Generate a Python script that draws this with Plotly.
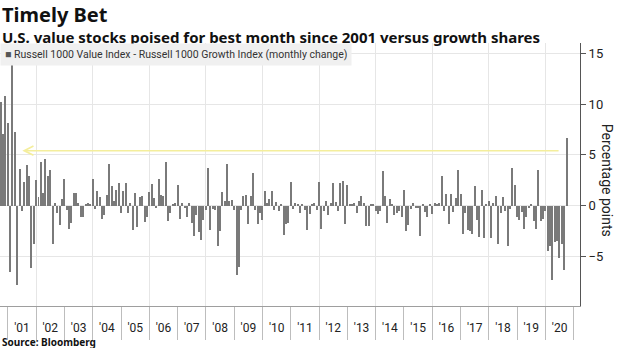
import pandas as pd
import plotly.graph_objects as go

# Monthly change of Russell 1000 Value minus Russell 1000 Growth, percentage points
spread_2000 = [10.2, 7.1, 10.8, 8.1]  # Sep-Dec
spread_2001 = [-6.5, 14.0, 7.3, -7.8, 3.6, -0.5, 2.3, 4.0, 2.9, -6.1, -3.8, 2.5]
spread_2002 = [0.9, 4.3, 1.3, 4.6, 2.9, 3.5, -3.8, 0.3, -0.7, -1.9, 0.7, 2.6]
spread_2003 = [-0.4, -2.3, -1.7, 1.3, 1.3, 0.3, -1.1, -1.1, 0.1, 0.3, 0.2, 2.6]
spread_2004 = [-0.3, 1.5, 0.9, -1.3, -0.9, 1.1, 4.1, 1.9, 0.5, 1.6, 2.2, -0.7]
spread_2005 = [1.5, 2.2, -0.7, 0.3, -2.4, 1.3, -2.1, 0.9, 1.0, -1.6, -1.1, 1.4]
spread_2006 = [2.1, 0.8, -0.2, 2.6, 1.1, 1.0, 4.3, -1.5, -0.7, 0.1, 0.3, 2.0]
spread_2007 = [-1.3, 0.3, -0.2, -1.1, 0.3, -1.7, -3.0, -0.9, -2.6, -3.4, -1.4, -0.4]
spread_2008 = [3.7, -2.4, -0.3, -0.4, -4.0, -2.5, 1.4, 0.5, 4.1, 0.5, 0.6, -0.4]
spread_2009 = [-6.8, -6.0, -0.4, 1.0, 1.1, -1.8, 1.0, 3.2, -0.4, -1.8, -0.7, -1.4]
spread_2010 = [1.5, 0.3, 0.7, 1.5, -0.4, 0.4, -0.5, 0.2, -2.9, -1.8, -1.7, 2.3]
spread_2011 = [-0.3, 0.3, 0.2, -0.7, 0.1, -0.4, -2.4, -0.8, 0.2, 0.3, -0.4, 2.3]
spread_2012 = [-2.3, -0.5, 0.5, -0.9, 0.3, 2.2, 0.4, -0.5, 2.2, 2.4, -1.8, 2.0]
spread_2013 = [0.2, 0.2, 0.3, -0.7, 0.5, 1.0, 0.3, -2.0, -2.0, 0.1, 0.1, -0.5]
spread_2014 = [-0.8, -0.5, 3.4, 1.0, -1.7, 0.7, 0.2, -0.9, -0.7, -0.5, -1.1, 1.6]
spread_2015 = [-2.5, -1.9, -0.3, 0.3, -0.2, -0.2, -3.0, 0.1, -0.6, -1.1, 0.1, -0.8]
spread_2016 = [0.3, 0.1, 0.3, 2.9, -0.5, 1.2, -1.8, 1.2, -0.6, 0.8, 3.5, 1.2]
spread_2017 = [-2.8, -0.7, -2.4, -2.5, -2.8, 1.9, -1.4, -3.1, 1.6, -3.2, 0.1, 0.5]
spread_2018 = [-3.2, 0.3, 1.0, -3.8, -0.7, 0.9, -0.5, -4.0, -0.3, 3.7, 2.0, -1.1]
spread_2019 = [-1.4, -0.6, -2.3, -1.1, -0.2, 0.2, -1.5, -2.3, 3.5, -1.5, -1.3, -0.5]
spread_2020 = [-4.4, -4.0, -7.3, -3.6, -3.5, -5.1, -3.8, -6.3, 6.7]  # Jan-Sep

spread = (spread_2000 + spread_2001 + spread_2002 + spread_2003 + spread_2004
          + spread_2005 + spread_2006 + spread_2007 + spread_2008 + spread_2009
          + spread_2010 + spread_2011 + spread_2012 + spread_2013 + spread_2014
          + spread_2015 + spread_2016 + spread_2017 + spread_2018 + spread_2019
          + spread_2020)

# Each bar sits on the last day of its month
month_ends = pd.date_range("2000-10-01", periods=len(spread), freq="MS") - pd.Timedelta(days=1)

y_ticks = [-5, 0, 5, 10, 15]
arrow_level = 5.42
arrow_from = "2020-07-08"
arrow_to = "2001-07-06"

TEXT = "#222222"
GRID = "#e6e6e6"
FONT = "Noto Sans"

fig = go.Figure()
fig.add_trace(go.Bar(
    x=month_ends, y=spread,
    width=13 * 86400000,
    marker=dict(color="#7a7a7a", line=dict(width=0)),
    showlegend=False, hoverinfo="x+y",
))
# empty trace that carries the two-year vertical grid axis
fig.add_trace(go.Scatter(x=[], y=[], xaxis="x2", showlegend=False, hoverinfo="skip"))

fig.update_layout(
    width=620, height=348, autosize=False,
    margin=dict(l=0, r=40, t=43, b=42),
    paper_bgcolor="white", plot_bgcolor="white",
    font=dict(family=FONT, color=TEXT),
    xaxis=dict(
        type="date", range=["2000-09-21", "2021-03-22"],
        tick0="2001-01-01", dtick="M12", tickformat="'%y",
        ticklabelmode="period", ticks="outside", ticklen=33,
        tickcolor="#bdbdbd", tickwidth=1, ticklabelstandoff=-22,
        tickfont=dict(size=12, color=TEXT, family="Roboto"),
        showgrid=False, zeroline=False,
        showline=True, linecolor="#9e9e9e", linewidth=1,
    ),
    xaxis2=dict(
        type="date", overlaying="x", matches="x", anchor="y",
        range=["2000-09-21", "2021-03-22"],
        tick0="2002-01-01", dtick="M24",
        showgrid=True, gridcolor=GRID, gridwidth=1,
        showticklabels=False, ticks="", showline=False, zeroline=False,
    ),
    yaxis=dict(
        range=[-9.85, 16], side="right", tickvals=y_ticks,
        ticks="outside", ticklen=5, tickcolor="#555555",
        showline=True, linecolor="#555555", linewidth=1,
        showgrid=True, gridcolor=GRID, zeroline=False,
        tickfont=dict(size=13, color=TEXT, family="Roboto"),
    ),
    bargap=0,
)

annotations = [
    dict(text="<b>Timely Bet</b>", x=0, y=1.1065, xref="paper", yref="paper",
         xanchor="left", yanchor="middle", showarrow=False,
         font=dict(size=20, color="#111111", family=FONT)),
    dict(text="<b>U.S. value stocks poised for best month since 2001 versus growth shares</b>",
         x=0, y=1.0228, xref="paper", yref="paper",
         xanchor="left", yanchor="middle", showarrow=False,
         font=dict(size=15, color="#111111", family=FONT)),
    dict(text="<span style='color:#555555'>■</span> Russell 1000 Value Index - Russell 1000 Growth Index (monthly change)",
         x=0, y=1, xref="paper", yref="paper", xanchor="left", yanchor="top",
         showarrow=False, bgcolor="#f0f0f0", borderpad=4,
         font=dict(size=10.5, color="#333333", family="Roboto")),
    dict(text="Percentage points", x=1.047, y=0.479, xref="paper", yref="paper",
         xanchor="center", yanchor="middle", textangle=90, showarrow=False,
         font=dict(size=14, color=TEXT, family="Roboto")),
    dict(text="<b>Source: Bloomberg</b>", x=0, y=-0.135, xref="paper", yref="paper",
         xanchor="left", yanchor="middle", showarrow=False,
         font=dict(size=10, color="#111111", family=FONT)),
    dict(text="", x=arrow_to, y=arrow_level, ax=arrow_from, ay=arrow_level,
         xref="x", yref="y", axref="x", ayref="y", showarrow=True,
         arrowhead=5, arrowsize=1.2, arrowwidth=1.5, arrowcolor="#f4ee9c"),
]
fig.update_layout(annotations=annotations)

fig.write_html("out.html")
